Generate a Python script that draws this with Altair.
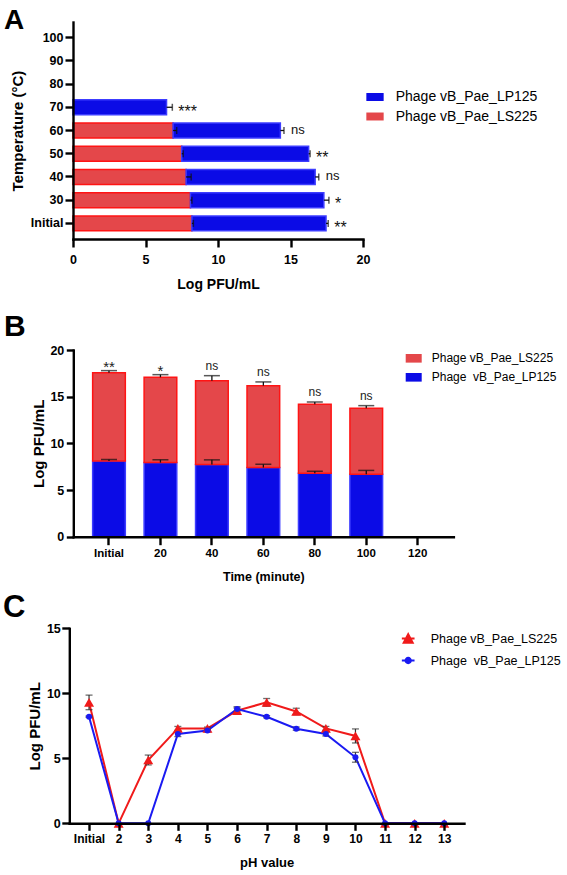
import altair as alt
import pandas as pd

FONT = "Liberation Sans"
INK = "#111111"

LS225 = "Phage vB_Pae_LS225"
LP125 = "Phage vB_Pae_LP125"
LP125_SPACED = "Phage\u00a0 vB_Pae_LP125"

RED_FILL, RED_EDGE = "#e4474a", "#ff1414"
BLUE_FILL, BLUE_EDGE = "#0b0be6", "#3c3cff"
RED_LINE, BLUE_LINE = "#f01a1a", "#1a1af2"

# ---------------- A: thermal stability (stacked horizontal bars) ----------------
temp_labels = ["Initial", "30", "40", "50", "60", "70", "80", "90", "100"]
temp_ls225 = [8.2, 8.1, 7.8, 7.5, 6.9, 0, 0, 0, 0]
temp_ls225_sd = [0.1, 0.1, 0.35, 0.1, 0.25, 0, 0, 0, 0]
temp_lp125 = [9.25, 9.2, 8.9, 8.75, 7.4, 6.45, 0, 0, 0]
temp_lp125_sd = [0.15, 0.35, 0.25, 0.1, 0.25, 0.4, 0, 0, 0]
temp_sig = ["**", "*", "ns", "**", "ns", "***", "", "", ""]

# ---------------- B: survival over time (stacked columns) ----------------
time_labels = ["Initial", "20", "40", "60", "80", "100", "120"]
time_lp125 = [8.12, 7.94, 7.73, 7.41, 6.81, 6.70, 0]
time_lp125_sd = [0.15, 0.3, 0.5, 0.35, 0.2, 0.4, 0]
time_ls225 = [9.45, 9.14, 8.98, 8.77, 7.37, 7.05, 0]
time_ls225_sd = [0.22, 0.28, 0.54, 0.4, 0.25, 0.29, 0]
time_sig = ["**", "*", "ns", "ns", "ns", "ns", ""]

# ---------------- C: pH stability (lines) ----------------
ph_labels = ["Initial", "2", "3", "4", "5", "6", "7", "8", "9", "10", "11", "12", "13"]
ph_ls225 = [9.3, 0, 4.87, 7.3, 7.3, 8.67, 9.3, 8.6, 7.3, 6.72, 0, 0, 0]
ph_ls225_sd = [0.56, 0, 0.38, 0.15, 0.1, 0.2, 0.3, 0.25, 0.15, 0.54, 0, 0, 0]
ph_lp125 = [8.2, 0, 0, 6.87, 7.13, 8.79, 8.2, 7.28, 6.87, 5.08, 0, 0, 0]
ph_lp125_sd = [0.05, 0, 0, 0.2, 0.1, 0.18, 0.08, 0.12, 0.15, 0.38, 0, 0, 0]

CANVAS_W, CANVAS_H = 567, 875

# plot-area placement of each panel on the shared canvas (pixels)
A_X, A_Y = (73, 363), (22, 239)
B_X, B_Y = (73.3, 453.4), (350, 536.7)
C_X, C_Y = (69.3, 464), (628.3, 823.3)


def make_axis(orient, offset, title, title_x, title_y, title_size, label_size,
              tick, pad, values=None):
    opts = dict(orient=orient, offset=offset, title=title, titleX=title_x,
                titleY=title_y, titleFontSize=title_size,
                titleBaseline="alphabetic", titleAlign="center",
                titleAngle=270 if orient == "left" else 0,
                labelFontSize=label_size, tickSize=tick, labelPadding=pad,
                labelOverlap=False, labelFlush=False, labelAngle=0,
                grid=False, zindex=1)
    if values is not None:
        opts["values"] = values
    return alt.Axis(**opts)


def box_path(half_h):
    return f"M-1,-{half_h}H1V{half_h}H-1Z"


# ======================= panel A =======================
rows, sig_rows = [], []
for cat, red, red_sd, blue, blue_sd, sig in zip(temp_labels, temp_ls225, temp_ls225_sd,
                                                temp_lp125, temp_lp125_sd, temp_sig):
    caps = []
    if red > 0:
        rows.append({"cat": cat, "series": LS225, "start": 0.0, "end": red, "sd": red_sd})
        caps.append(red + red_sd)
    if blue > 0:
        rows.append({"cat": cat, "series": LP125, "start": red, "end": red + blue, "sd": blue_sd})
        caps.append(red + blue + blue_sd)
    if sig:
        sig_rows.append({"cat": cat, "label": sig, "pos": max(caps),
                         "stars": "*" in sig})
df_a = pd.DataFrame(rows)
df_a["cap"] = df_a["end"] + df_a["sd"]
sig_a = pd.DataFrame(sig_rows)

xa = alt.Scale(domain=[0, 20], range=list(A_X), nice=False)
ya = alt.Scale(domain=temp_labels[::-1], range=list(A_Y), paddingInner=0.355, paddingOuter=0.35)
axis_xa = make_axis("bottom", -(CANVAS_H - A_Y[1]), "Log PFU/mL", sum(A_X) / 2, 49.5,
                    14, 12.5, 8, 6.5, values=[0, 5, 10, 15, 20])
axis_ya = make_axis("left", -A_X[0], "Temperature (°C)", -51, sum(A_Y) / 2,
                    15, 12.5, 8, 2)
legend_a = alt.Legend(orient="none", legendX=366, legendY=88, title=None, padding=0,
                      labelFontSize=14, labelOffset=11.7, labelLimit=400, rowPadding=3.5,
                      symbolType=box_path(0.46), symbolSize=300, symbolStrokeWidth=0)

XA = lambda f: alt.X(f, scale=xa, axis=axis_xa)
YA = alt.Y("cat:N", scale=ya, axis=axis_ya, sort=None)

bars_a = alt.Chart(df_a).mark_bar(strokeWidth=1.5).encode(
    x=XA("start:Q"), x2="end:Q", y=YA,
    color=alt.Color("series:N", scale=alt.Scale(domain=[LP125, LS225], range=[BLUE_FILL, RED_FILL]),
                    legend=legend_a),
    stroke=alt.Stroke("series:N", scale=alt.Scale(domain=[LP125, LS225], range=[BLUE_EDGE, RED_EDGE]),
                      legend=None),
)
err_a = alt.Chart(df_a).mark_rule(color=INK, strokeWidth=1.3).encode(x=XA("end:Q"), x2="cap:Q", y=YA)
cap_a = alt.Chart(df_a).mark_tick(color=INK, thickness=1.5, size=7, orient="vertical").encode(
    x=XA("cap:Q"), y=YA)
stars_a = alt.Chart(sig_a).transform_filter("datum.stars").mark_text(
    align="left", baseline="alphabetic", dx=6, dy=9.3, fontSize=16, color=INK).encode(
    x=XA("pos:Q"), y=YA, text="label:N")
ns_a = alt.Chart(sig_a).transform_filter("!datum.stars").mark_text(
    align="left", baseline="alphabetic", dx=7, dy=3, fontSize=13, color=INK).encode(
    x=XA("pos:Q"), y=YA, text="label:N")
panel_a = alt.layer(bars_a, err_a, cap_a, stars_a, ns_a)

# ======================= panel B =======================
rows, sig_rows = [], []
for cat, blue, blue_sd, red, red_sd, sig in zip(time_labels, time_lp125, time_lp125_sd,
                                                time_ls225, time_ls225_sd, time_sig):
    if blue > 0:
        rows.append({"cat": cat, "series": LP125_SPACED, "start": 0.0, "end": blue, "sd": blue_sd})
    if red > 0:
        rows.append({"cat": cat, "series": LS225, "start": blue, "end": blue + red, "sd": red_sd})
    if sig:
        sig_rows.append({"cat": cat, "label": sig, "pos": blue + red + red_sd,
                         "stars": "*" in sig})
df_b = pd.DataFrame(rows)
df_b["cap"] = df_b["end"] + df_b["sd"]
sig_b = pd.DataFrame(sig_rows)

xb = alt.Scale(domain=time_labels, range=list(B_X), paddingInner=0.365, paddingOuter=0.376)
yb = alt.Scale(domain=[0, 20], range=[B_Y[1], B_Y[0]], nice=False)
axis_xb = make_axis("bottom", -(CANVAS_H - B_Y[1]), "Time (minute)", sum(B_X) / 2, 43.8,
                    12.5, 11.5, 8, 3)
axis_yb = make_axis("left", -B_X[0], "Log PFU/mL", -30.3, sum(B_Y) / 2,
                    15, 12.5, 7, 2.5, values=[0, 5, 10, 15, 20])
legend_b = alt.Legend(orient="none", legendX=405.7, legendY=350.3, title=None, padding=0,
                      labelFontSize=12, labelOffset=10, labelLimit=400, rowPadding=5,
                      symbolType=box_path(0.54), symbolSize=256, symbolStrokeWidth=0)

XB = alt.X("cat:N", scale=xb, axis=axis_xb, sort=None)
YB = lambda f: alt.Y(f, scale=yb, axis=axis_yb)

bars_b = alt.Chart(df_b).mark_bar(strokeWidth=1.5).encode(
    x=XB, y=YB("start:Q"), y2="end:Q",
    color=alt.Color("series:N", scale=alt.Scale(domain=[LS225, LP125_SPACED], range=[RED_FILL, BLUE_FILL]),
                    legend=legend_b),
    stroke=alt.Stroke("series:N", scale=alt.Scale(domain=[LS225, LP125_SPACED], range=[RED_EDGE, BLUE_EDGE]),
                      legend=None),
)
err_b = alt.Chart(df_b).mark_rule(color=INK, strokeWidth=1.3).encode(x=XB, y=YB("end:Q"), y2="cap:Q")
cap_b = alt.Chart(df_b).mark_tick(color=INK, thickness=1.5, size=16, orient="horizontal").encode(
    x=XB, y=YB("cap:Q"))
stars_b = alt.Chart(sig_b).transform_filter("datum.stars").mark_text(
    align="center", baseline="alphabetic", dy=1.3, fontSize=15, color="#222222").encode(
    x=XB, y=YB("pos:Q"), text="label:N")
ns_b = alt.Chart(sig_b).transform_filter("!datum.stars").mark_text(
    align="center", baseline="alphabetic", dy=-5.5, fontSize=12, color="#222222").encode(
    x=XB, y=YB("pos:Q"), text="label:N")
panel_b = alt.layer(bars_b, err_b, cap_b, stars_b, ns_b)

# ======================= panel C =======================
rows = []
for series, vals, sds in [(LS225, ph_ls225, ph_ls225_sd), (LP125_SPACED, ph_lp125, ph_lp125_sd)]:
    for i, (cat, v, sd) in enumerate(zip(ph_labels, vals, sds)):
        rows.append({"cat": cat, "idx": i, "series": series, "value": v, "sd": sd,
                     "lo": v - sd, "hi": v + sd})
df_c = pd.DataFrame(rows)

xc = alt.Scale(type="point", domain=ph_labels, range=list(C_X), padding=0.667)
yc = alt.Scale(domain=[0, 15], range=[C_Y[1], C_Y[0]], nice=False)
axis_xc = make_axis("bottom", -(CANVAS_H - C_Y[1]), "pH value", sum(C_X) / 2, 43,
                    13, 12, 7, 3.5)
axis_yc = make_axis("left", -C_X[0], "Log PFU/mL", -29.8, sum(C_Y) / 2,
                    15, 12.5, 7.5, 1.5, values=[0, 5, 10, 15])

# legend keys: a short line with the series marker in its middle
TRI_KEY = "M-1,0H1M0,-0.68L0.71,0.68L-0.71,0.68Z"
DOT_KEY = "M-1,0H1M0.42,0A0.42,0.42,0,1,1,-0.42,0A0.42,0.42,0,1,1,0.42,0Z"


def key_legend(y, shape, edge):
    return alt.Legend(orient="none", legendX=400.7, legendY=y, title=None, padding=0,
                      labelFontSize=12.5, labelOffset=15, labelLimit=400,
                      symbolType=shape, symbolSize=161, symbolStrokeWidth=2,
                      symbolStrokeColor=edge, symbolOpacity=1)


XC = alt.X("cat:N", scale=xc, axis=axis_xc, sort=None)
YC = lambda f: alt.Y(f, scale=yc, axis=axis_yc)

lines_c = alt.Chart(df_c).mark_line(strokeWidth=2).encode(
    x=XC, y=YC("value:Q"), order="idx:Q",
    stroke=alt.Stroke("series:N", scale=alt.Scale(domain=[LS225, LP125_SPACED], range=[RED_LINE, BLUE_LINE]),
                      legend=None))
has_sd = alt.Chart(df_c).transform_filter("datum.sd > 0")
err_c = has_sd.mark_rule(color="#333333", strokeWidth=1.2).encode(x=XC, y=YC("lo:Q"), y2="hi:Q")
cap_hi_c = has_sd.mark_tick(color="#333333", thickness=1.3, size=7, orient="horizontal").encode(
    x=XC, y=YC("hi:Q"))
cap_lo_c = has_sd.mark_tick(color="#333333", thickness=1.3, size=7, orient="horizontal").encode(
    x=XC, y=YC("lo:Q"))
tri_c = alt.Chart(df_c).transform_filter(alt.datum.series == LS225).mark_point(
    shape="triangle-up", filled=True, size=100, opacity=1).encode(
    x=XC, y=YC("value:Q"),
    color=alt.Color("series:N", scale=alt.Scale(domain=[LS225], range=[RED_LINE]),
                    legend=key_legend(631, TRI_KEY, RED_LINE)))
dot_c = alt.Chart(df_c).transform_filter(alt.datum.series == LP125_SPACED).mark_point(
    shape="circle", filled=True, size=36, opacity=1).encode(
    x=XC, y=YC("value:Q"),
    fill=alt.Fill("series:N", scale=alt.Scale(domain=[LP125_SPACED], range=[BLUE_LINE]),
                  legend=key_legend(653, DOT_KEY, BLUE_LINE)))
panel_c = alt.layer(lines_c, err_c, cap_hi_c, cap_lo_c, tri_c, dot_c)


# ======================= panel letters =======================
def letter(ch, size, x, y):
    return alt.Chart(pd.DataFrame({"panel": [ch]})).mark_text(
        align="left", baseline="alphabetic", fontSize=size, fontWeight="bold", color="black"
    ).encode(text="panel:N", x=alt.value(x), y=alt.value(y))


chart = (
    alt.layer(panel_a, panel_b, panel_c,
              letter("A", 28, 4, 28.5), letter("B", 30, 4, 336), letter("C", 31, 3, 617))
    .resolve_scale(x="independent", y="independent", color="independent",
                   stroke="independent", fill="independent")
    .properties(width=CANVAS_W, height=CANVAS_H, padding=0, autosize=alt.AutoSizeParams(type="none"))
    .configure_view(stroke=None)
    .configure_axis(domainColor="black", tickColor="black", labelColor="black", titleColor="black",
                    labelFont=FONT, titleFont=FONT, labelFontWeight="bold", titleFontWeight="bold",
                    domainWidth=2.4, tickWidth=2.4, domainCap="square")
    .configure_legend(labelFont=FONT, labelColor="black")
    .configure_text(font=FONT)
)

chart.save("out.html", embed_options={"renderer": "svg", "actions": False})
